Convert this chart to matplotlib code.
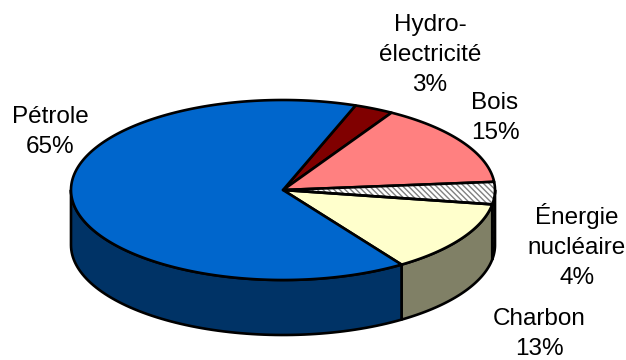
import numpy as np
import matplotlib
matplotlib.use("Agg")
import matplotlib.pyplot as plt
from matplotlib.patches import Polygon

# ---- data ----
categories = ["Hydro-\nélectricité", "Bois", "Énergie\nnucléaire", "Charbon", "Pétrole"]
values = [3, 15, 4, 13, 65]
top_colors = ["#800000", "#FF8080", "#FFFFFF", "#FFFFCC", "#0066CC"]
side_colors = ["#400000", "#804040", "#D9D9D9", "#808066", "#003366"]
hatches = [None, None, "\\\\\\\\\\\\", None, None]

# ---- layout ----
W, H = 626, 360
cx, cy, rx, ry, depth = 283, 190, 212, 90, 55
start_angle = 70.0
label_pos = [(430, 55), (495, 118), (577, 246), (539, 334), (50, 132)]

fig = plt.figure(figsize=(W / 100, H / 100), dpi=100)
ax = fig.add_axes([0, 0, 1, 1])
ax.set_xlim(0, W)
ax.set_ylim(H, 0)
ax.axis("off")

lw = 1.9

def pt(theta_deg, dz=0.0):
    t = np.radians(theta_deg)
    return cx + rx * np.cos(t), cy - ry * np.sin(t) + dz

total = float(sum(values))
a_end = start_angle
bounds = []
for v in values:
    a0 = a_end - 360.0 * v / total   # clockwise
    bounds.append((a0, a_end))
    a_end = a0

def add_poly(xy, fc, hatch, z):
    if hatch:
        ax.add_patch(Polygon(xy, closed=True, facecolor=fc, edgecolor="#808080",
                             hatch=hatch, linewidth=0, zorder=z))
        ax.add_patch(Polygon(xy, closed=True, facecolor="none", edgecolor="black",
                             linewidth=lw, joinstyle="round", zorder=z + 0.1))
    else:
        ax.add_patch(Polygon(xy, closed=True, facecolor=fc, edgecolor="black",
                             linewidth=lw, joinstyle="round", zorder=z))

# side faces (front half: angles in [180, 360])
for (a0, a1), sc, h in zip(bounds, side_colors, hatches):
    for shift in (-360, 0, 360):
        lo = max(a0 + shift, 180)
        hi = min(a1 + shift, 360)
        if hi > lo:
            th = np.linspace(lo, hi, 80)
            topx, topy = pt(th)
            botx, boty = pt(th[::-1], depth)
            xy = np.column_stack([np.concatenate([topx, botx]),
                                  np.concatenate([topy, boty])])
            add_poly(xy, sc, h, 1)

# top faces
for (a0, a1), tc, h in zip(bounds, top_colors, hatches):
    n = max(int((a1 - a0) * 2), 10)
    th = np.linspace(a0, a1, n)
    x, y = pt(th)
    xy = np.column_stack([np.concatenate([[cx], x]), np.concatenate([[cy], y])])
    add_poly(xy, tc, h, 2)

# labels
for cat, v, (lx, ly) in zip(categories, values, label_pos):
    ax.text(lx, ly, f"{cat}\n{v}%", ha="center", va="center",
            fontsize=17.5, family=["Liberation Sans", "DejaVu Sans"],
            linespacing=1.45, color="black", zorder=5)

fig.savefig("out.png", dpi=100)
